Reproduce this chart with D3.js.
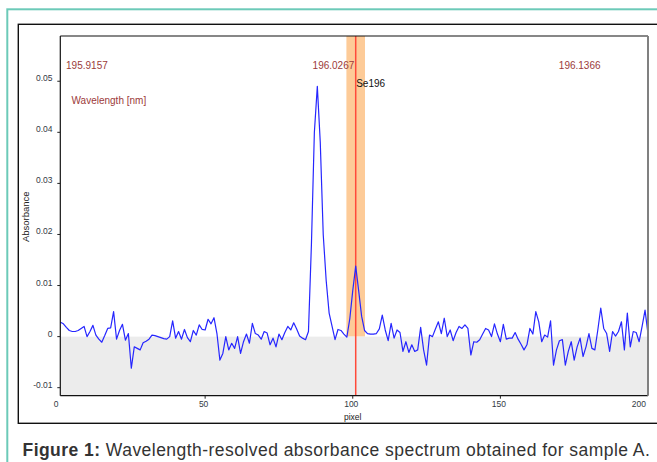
<!DOCTYPE html>
<html><head><meta charset="utf-8">
<script src="https://cdn.jsdelivr.net/npm/d3@7"></script>
<style>html,body{margin:0;padding:0;background:#fff;}svg{display:block;font-family:"Liberation Sans",Arial,sans-serif;}</style>
</head><body>
<script>
// pixel index 0..200
const absorbance = [
 0.0028,0.0028,0.0025,0.0018,0.0012,0.0010,0.0010,0.0012,0.0016,0.0020,
 0.0000,0.0010,0.0022,0.0003,-0.0005,-0.0011,0.0002,0.0016,0.0017,0.0049,
 -0.0005,0.0012,0.0024,-0.0007,0.0006,-0.0062,-0.0020,-0.0023,-0.0026,-0.0012,
 -0.0009,-0.0005,0.0003,0.0002,0.0000,-0.0002,-0.0004,-0.0005,0.0000,0.0031,
 -0.0003,0.0010,-0.0005,0.0014,-0.0002,-0.0010,0.0012,0.0003,0.0023,0.0014,
 0.0013,0.0034,0.0025,0.0037,0.0006,-0.0046,-0.0033,0.0000,-0.0026,-0.0013,
 -0.0023,0.0000,-0.0033,-0.0010,0.0005,-0.0013,0.0026,0.0006,0.0003,-0.0005,
 0.0010,0.0007,-0.0016,-0.0003,-0.0020,0.0005,-0.0006,0.0008,0.0020,0.0013,
 0.0027,0.0015,0.0001,-0.0003,-0.0006,0.0010,0.0180,0.0400,0.0490,0.0380,
 0.0200,0.0110,0.0046,0.0020,-0.0006,0.0014,0.0012,0.0005,-0.0001,0.0035,
 0.0090,0.0138,0.0090,0.0040,0.0012,0.0006,0.0005,0.0005,0.0006,0.0015,
 0.0042,0.0013,-0.0008,0.0026,-0.0003,0.0013,0.0008,-0.0029,-0.0010,-0.0031,
 -0.0016,-0.0029,-0.0026,0.0018,-0.0026,-0.0056,0.0003,0.0000,0.0015,0.0029,
 0.0006,0.0036,0.0000,0.0013,-0.0008,0.0008,0.0020,0.0016,0.0023,0.0016,
 -0.0036,-0.0010,-0.0011,-0.0006,0.0005,0.0016,0.0013,0.0000,0.0025,0.0005,
 -0.0010,0.0024,-0.0005,-0.0003,-0.0003,0.0008,-0.0005,-0.0015,-0.0026,-0.0016,
 0.0016,0.0005,0.0049,0.0029,-0.0010,0.0003,-0.0001,0.0031,-0.0056,-0.0026,
 -0.0008,-0.0006,-0.0056,-0.0029,-0.0010,-0.0046,-0.0020,-0.0003,-0.0039,-0.0020,
 0.0006,-0.0023,-0.0026,0.0013,0.0056,0.0016,0.0006,-0.0029,0.0010,0.0001,
 0.0010,0.0029,-0.0026,0.0046,-0.0020,0.0010,0.0008,-0.0010,0.0020,0.0052,
 0.0005
];
const xTicks = [0, 50, 100, 150, 200];
const yTicks = [-0.01, 0, 0.01, 0.02, 0.03, 0.04, 0.05];
const yTickLabels = ["-0.01", "0", "0.01", "0.02", "0.03", "0.04", "0.05"];
const wavelengthLabels = ["195.9157", "196.0267", "196.1366"];
const wavelengthLabelPixels = [2.9, 86.4, 169.8];
const markerPixel = 101;
const markerHalfWidth = 3.15;
const markerName = "Se196";
const xTitle = "pixel", yTitle = "Absorbance", wlTitle = "Wavelength [nm]";

const W = 657, H = 462;
const svg = d3.select("body").append("svg").attr("width", W).attr("height", H);

// outer decorations
svg.append("rect").attr("x", 7.3).attr("y", 9.3).attr("width", 700).attr("height", 500)
  .attr("fill", "none").attr("stroke", "#6ccab8").attr("stroke-width", 2);
svg.append("rect").attr("x", 18.3).attr("y", 24.3).attr("width", 700).attr("height", 399)
  .attr("fill", "none").attr("stroke", "#111").attr("stroke-width", 1.4);

const plot = {left: 60.3, right: 648, top: 36, bottom: 395.7};
const x = d3.scaleLinear().domain([0, 200]).range([57.5, 648]);
const y = d3.scaleLinear().domain([-0.01157, 0.05886]).range([plot.bottom, plot.top]);

svg.append("defs").append("clipPath").attr("id", "clip").append("rect")
  .attr("x", plot.left).attr("y", plot.top).attr("width", plot.right - plot.left).attr("height", plot.bottom - plot.top);

const g = svg.append("g").attr("clip-path", "url(#clip)");
g.append("rect").attr("x", plot.left).attr("y", plot.top).attr("width", plot.right - plot.left).attr("height", plot.bottom - plot.top).attr("fill", "#fff");
// marker window
g.append("rect").attr("x", x(markerPixel - markerHalfWidth)).attr("y", plot.top)
  .attr("width", x(markerPixel + markerHalfWidth) - x(markerPixel - markerHalfWidth))
  .attr("height", y(0) - plot.top).attr("fill", "#fdcb98");
// negative region
g.append("rect").attr("x", plot.left).attr("y", y(0)).attr("width", plot.right - plot.left)
  .attr("height", plot.bottom - y(0)).attr("fill", "#ececec");
g.append("line").attr("x1", x(markerPixel)).attr("x2", x(markerPixel)).attr("y1", plot.top).attr("y2", plot.bottom)
  .attr("stroke", "#ff4a3a").attr("stroke-width", 1.5);
// spectrum
g.append("path").datum(absorbance)
  .attr("d", d3.line().x((d, i) => x(i)).y(d => y(d)))
  .attr("fill", "none").attr("stroke", "#2626ff").attr("stroke-width", 1.2).attr("stroke-linejoin", "round");

// frame
svg.append("line").attr("x1", plot.left).attr("x2", plot.right).attr("y1", plot.top).attr("y2", plot.top).attr("stroke", "#111").attr("stroke-width", 1.2);
svg.append("line").attr("x1", plot.left).attr("x2", plot.left).attr("y1", plot.top).attr("y2", plot.bottom).attr("stroke", "#111").attr("stroke-width", 1.2);
svg.append("line").attr("x1", plot.left).attr("x2", plot.right).attr("y1", plot.bottom).attr("y2", plot.bottom).attr("stroke", "#111").attr("stroke-width", 1.2);
svg.append("line").attr("x1", plot.right).attr("x2", plot.right).attr("y1", plot.top).attr("y2", plot.bottom).attr("stroke", "#808080").attr("stroke-width", 2);

// y ticks
const yt = svg.append("g");
yTicks.forEach((t, i) => {
  yt.append("line").attr("x1", plot.left - 3).attr("x2", plot.left).attr("y1", y(t)).attr("y2", y(t)).attr("stroke", "#222");
  yt.append("text").attr("x", 52.5).attr("y", y(t) - 3).attr("dy", "0.35em").attr("text-anchor", "end")
    .attr("font-size", 8.5).attr("fill", "#333a44").text(yTickLabels[i]);
});
// x ticks
const xt = svg.append("g");
xTicks.forEach((t, i) => {
  if (t > 0 && t < 200) xt.append("line").attr("x1", x(t)).attr("x2", x(t)).attr("y1", plot.bottom).attr("y2", plot.bottom + 3).attr("stroke", "#222");
  const last = i === xTicks.length - 1;
  xt.append("text").attr("x", last ? 646 : x(t) - 1.5).attr("y", 406.5)
    .attr("text-anchor", last ? "end" : "middle").attr("font-size", 8.5).attr("fill", "#333a44").text(t);
});
svg.append("text").attr("x", x(100)).attr("y", 420).attr("text-anchor", "middle").attr("font-size", 8.5).attr("fill", "#222").text(xTitle);
svg.append("text").attr("transform", "translate(28.5,216.7) rotate(-90)").attr("text-anchor", "middle")
  .attr("font-size", 9.5).attr("fill", "#222").text(yTitle);

// wavelength labels
wavelengthLabels.forEach((l, i) => {
  svg.append("text").attr("x", x(wavelengthLabelPixels[i])).attr("y", 69).attr("font-size", 10).attr("fill", "#9c3a3a").text(l);
});
svg.append("text").attr("x", 71.5).attr("y", 104).attr("font-size", 10).attr("fill", "#9c3a3a").text(wlTitle);
svg.append("text").attr("x", x(markerPixel) + 0.5).attr("y", 87).attr("font-size", 10).attr("fill", "#111").text(markerName);

// caption
const cap = svg.append("text").attr("x", 22.5).attr("y", 456).attr("font-size", 17.5).attr("fill", "#333")
  .attr("letter-spacing", 0.46);
cap.append("tspan").attr("font-weight", "bold").text("Figure 1:");
cap.append("tspan").text(" Wavelength-resolved absorbance spectrum obtained for sample A.");
</script>
</body></html>
